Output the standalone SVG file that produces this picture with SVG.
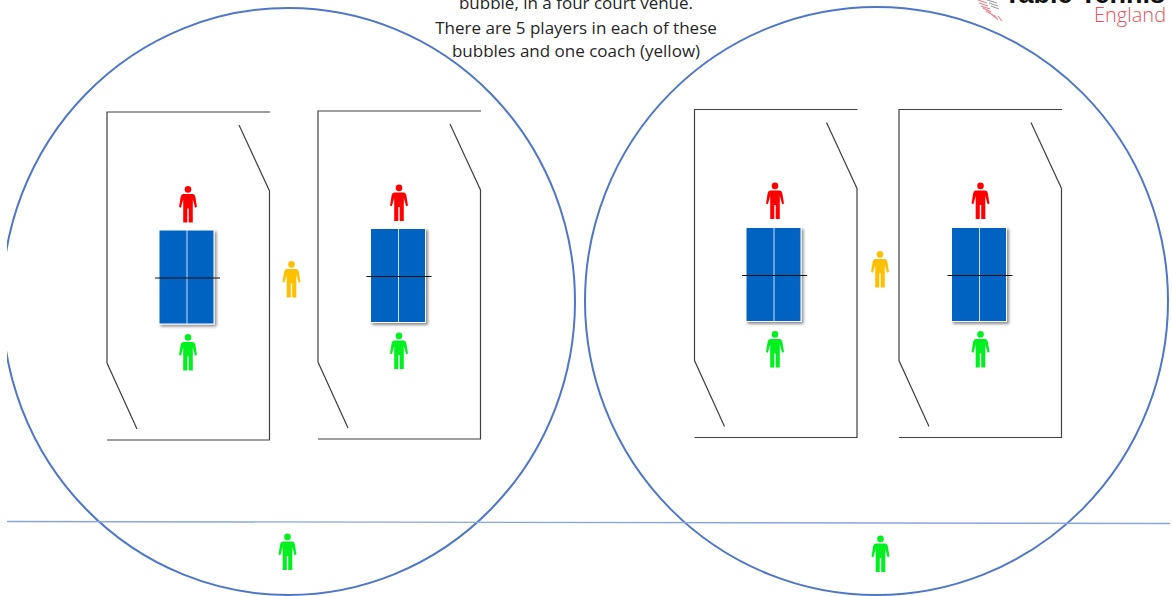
<svg xmlns="http://www.w3.org/2000/svg" width="1172" height="596" viewBox="0 0 1172 596">
<style>
.bubble{fill:none;stroke:#4f77c8;stroke-width:2}
.divider{fill:none;stroke:#8aa5dc;stroke-width:1.4}
.court{fill:none;stroke:#404040;stroke-width:1.2}
.top{fill:#0563c1;stroke:#fff;stroke-width:1;filter:url(#sh)}
.mid{stroke:#cfe0f5;stroke-width:1}
.net{stroke:#111;stroke-width:1}
.note{font-family:"Open Sans","Liberation Sans",sans-serif;font-size:17px;fill:#262626;text-anchor:middle}
.red{fill:#ff0000}.green{fill:#00f020}.yellow{fill:#ffc000}
.tick{stroke:#f0808a;stroke-width:1.1}
.tickg{stroke:#a0a0a0;stroke-width:1.2}
</style>
<defs>
<filter id="sh" x="-20%" y="-20%" width="150%" height="140%"><feDropShadow dx="2" dy="2" stdDeviation="1.6" flood-color="#000" flood-opacity="0.45"/></filter>
<clipPath id="clipL"><rect x="7" y="0" width="1165" height="596"/></clipPath>
<g id="person">
<circle cx="0" cy="3.400" r="3.300"/>
<path d="M-4.800 8Q-6.800 8-7.300 10.500L-9 21L-7.100 21.700L-4.800 13.500V36.600H-0.700V22.500H0.700V36.600H4.800V13.500L7.100 21.700L9 21L7.300 10.500Q6.800 8 4.800 8Z"/>
</g>
<g id="frame">
<path class="court" d="M163 0H0V251L30 317M0 328H162.500V79L132 13"/>
</g>
<g id="tbl">
<rect class="top" x="0" y="0" width="55" height="94"/>
<line class="mid" x1="28" y1="0" x2="28" y2="94"/>
<line class="net" x1="-4" y1="48" x2="61" y2="48"/>
</g>
</defs>
<rect width="1172" height="596" fill="#fff"/>
<g id="connectors">
<ellipse class="bubble" cx="288.500" cy="301.500" rx="286.500" ry="293.500" clip-path="url(#clipL)"/>
<ellipse class="bubble" cx="876.500" cy="301" rx="291.500" ry="294"/>
<line class="divider" x1="7" y1="521.500" x2="1170" y2="523.500"/>
</g>
<g id="note">
<text class="note" x="576" y="9">bubble, in a four court venue.</text>
<text class="note" x="576" y="34">There are 5 players in each of these</text>
<text class="note" x="576" y="57">bubbles and one coach (yellow)</text>
</g>
<g id="logo">
<text x="1004" y="3" font-family="'Liberation Sans',sans-serif" font-weight="700" font-size="27" fill="#111">Table Tennis</text>
<text x="1094" y="22" font-family="'Open Sans','Liberation Sans',sans-serif" font-weight="300" font-size="20" fill="#e9505c">England</text>
<path class="tickg" d="M987 0L997 3M989 3L998 6M991 6L999 9"/>
<path class="tick" d="M978 0L987 3M979 3L988 6M981 6L990 9M983 8L991 12M986 11L993 15M990 13L996 18M994 15L998 20M998 16L1002 21"/>
</g>
<g id="court-1"><use href="#frame" x="107" y="112"/></g>
<g id="court-2"><use href="#frame" x="318" y="111"/></g>
<g id="court-3"><use href="#frame" x="694.500" y="109.500"/></g>
<g id="court-4"><use href="#frame" x="899" y="109.500"/></g>
<g id="table-1"><use href="#tbl" x="159" y="230"/></g>
<g id="table-2"><use href="#tbl" x="370.500" y="228.500"/></g>
<g id="table-3"><use href="#tbl" x="746" y="227.500"/></g>
<g id="table-4"><use href="#tbl" x="951.500" y="227.500"/></g>
<g id="player-red-1" class="red"><use href="#person" x="188" y="186"/></g>
<g id="player-red-2" class="red"><use href="#person" x="399" y="184.500"/></g>
<g id="player-red-3" class="red"><use href="#person" x="775" y="182.500"/></g>
<g id="player-red-4" class="red"><use href="#person" x="980.500" y="182.500"/></g>
<g id="player-green-1" class="green"><use href="#person" x="188" y="334"/></g>
<g id="player-green-2" class="green"><use href="#person" x="399" y="332.500"/></g>
<g id="player-green-3" class="green"><use href="#person" x="775" y="331"/></g>
<g id="player-green-4" class="green"><use href="#person" x="980.500" y="331"/></g>
<g id="coach-1" class="yellow"><use href="#person" x="291.500" y="261"/></g>
<g id="coach-2" class="yellow"><use href="#person" x="880" y="251"/></g>
<g id="player-green-5" class="green"><use href="#person" x="287.500" y="533.500"/></g>
<g id="player-green-6" class="green"><use href="#person" x="880.500" y="535.500"/></g>
</svg>
